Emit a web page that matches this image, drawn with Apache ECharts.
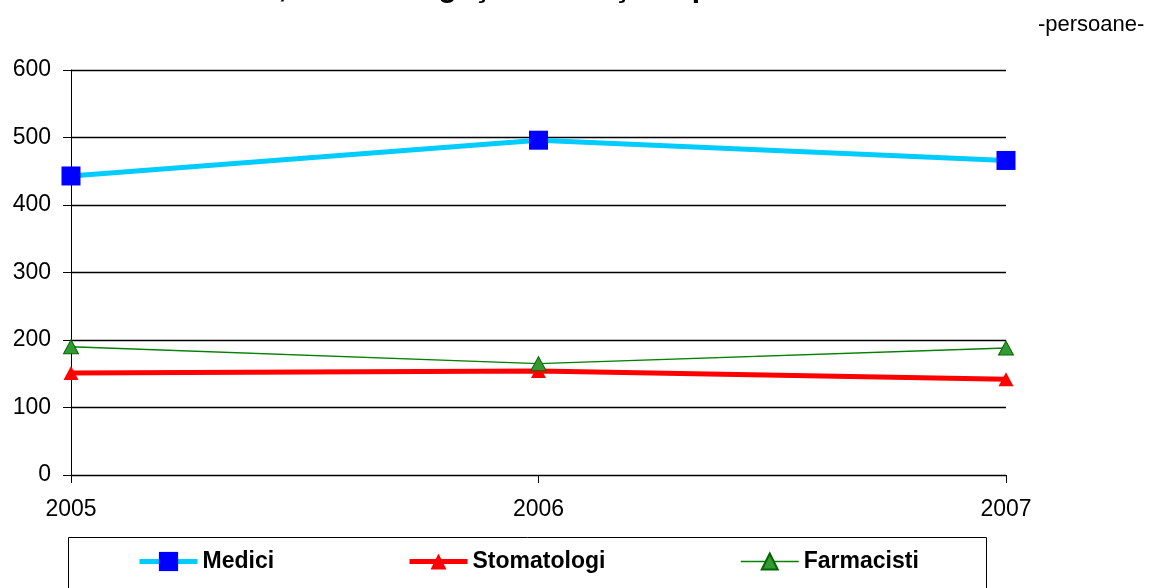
<!DOCTYPE html>
<html>
<head>
<meta charset="utf-8">
<script src="https://cdn.jsdelivr.net/npm/echarts@6/dist/echarts.min.js"></script>
<style>
html,body{margin:0;padding:0;background:#fff;}
#c{width:1155px;height:588px;}
</style>
</head>
<body>
<div id="c"></div>
<script>
var years = ['2005', '2006', '2007'];
var medici = [443, 496, 466];
var stomatologi = [151, 154, 142];
var farmacisti = [190, 165, 188];
var seriesNames = ['Medici', 'Stomatologi', 'Farmacisti'];
var titleText = 'Numărul de medici, stomatologi şi farmacişti în perioada 2005-2007';
var unitText = '-persoane-';

var FONT = '"Liberation Sans", Arial, sans-serif';
var chart = echarts.init(document.getElementById('c'), null, {renderer: 'canvas'});

function legendFor(name, left, itemH, lineW) {
  return {
    data: [name],
    left: left,
    top: 550,
    padding: 0,
    itemWidth: 58,
    itemHeight: itemH,
    selectedMode: false,
    lineStyle: {width: lineW},
    textStyle: {fontFamily: FONT, fontSize: 23, fontWeight: 'bold', color: '#000'}
  };
}

var option = {
  backgroundColor: '#fff',
  animation: false,
  title: [
    {text: titleText, left: 10, top: -26, padding: 0,
     textStyle: {fontFamily: FONT, fontSize: 30, fontWeight: 'bold', color: '#000'}},
    {text: unitText, left: 1038, top: 14, padding: 0,
     textStyle: {fontFamily: FONT, fontSize: 22, fontWeight: 'normal', color: '#000'}}
  ],
  graphic: [
    {type: 'rect', shape: {x: 68.5, y: 537.5, width: 918, height: 80},
     style: {fill: 'none', stroke: '#000', lineWidth: 1}, z: 0}
  ],
  legend: [
    legendFor(seriesNames[0], 137, 24, 5),
    legendFor(seriesNames[1], 407, 20, 5),
    legendFor(seriesNames[2], 740, 20, 1.5)
  ],
  grid: {left: 71, right: 149, top: 70, bottom: 113, containLabel: false},
  xAxis: {
    type: 'category',
    data: years,
    boundaryGap: false,
    axisLine: {show: true, lineStyle: {color: '#000', width: 1}},
    axisTick: {show: true, length: 8, lineStyle: {color: '#000'}},
    axisLabel: {margin: 23, fontFamily: FONT, fontSize: 23, color: '#000'},
    splitLine: {show: false}
  },
  yAxis: {
    type: 'value',
    min: 0, max: 600, interval: 100,
    axisLine: {show: true, lineStyle: {color: '#000', width: 1}},
    axisTick: {show: true, length: 8, lineStyle: {color: '#000'}},
    axisLabel: {margin: 20, fontFamily: FONT, fontSize: 23, color: '#000'},
    splitLine: {show: true, lineStyle: {color: '#000', width: 1.3}}
  },
  series: [
    {name: seriesNames[0], type: 'line', data: medici,
     symbol: 'rect', symbolSize: 19,
     lineStyle: {color: '#00CCFF', width: 5},
     itemStyle: {color: '#0000FF', borderWidth: 0}, z: 5},
    {name: seriesNames[1], type: 'line', data: stomatologi,
     symbol: 'triangle', symbolSize: [15, 14],
     lineStyle: {color: '#FF0000', width: 5},
     itemStyle: {color: '#FF0000', borderWidth: 0}, z: 4},
    {name: seriesNames[2], type: 'line', data: farmacisti,
     symbol: 'triangle', symbolSize: [15, 14],
     lineStyle: {color: '#008000', width: 1.5},
     itemStyle: {color: '#339933', borderColor: '#006600', borderWidth: 1}, z: 4}
  ]
};
chart.setOption(option);
</script>
</body>
</html>
